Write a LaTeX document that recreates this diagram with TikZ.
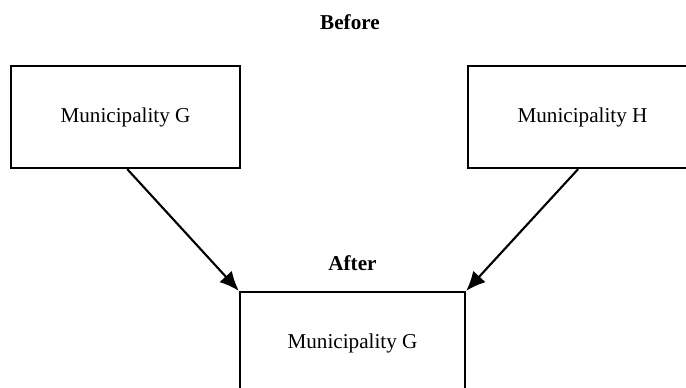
\documentclass[tikz,border=0pt]{standalone}
\usepackage{fontspec}
\setmainfont{Liberation Serif}
\usepackage{tikz}
\usetikzlibrary{arrows.meta,positioning}
\tikzset{
  %Define style for boxes
  muni/.style={
    rectangle,
    draw=black, line width=1.3pt,
    minimum width=129.8pt,
    minimum height=57.8pt,
    font=\fontsize{12}{14}\selectfont,
    text centered},
  % Define arrow style
  pil/.style={
    -{Latex[length=11pt,width=9.5pt]},
    line width=1.2pt}
}

\begin{document}
\begin{tikzpicture}[x=0.567pt,y=-0.567pt]
      \clip (0,0) rectangle (686,387);
      \node[font=\fontsize{12}{14}\selectfont\bfseries] (before) at (350,22) {Before};
      \node[muni] (gold) at (125.5,117) {Municipality G};
      \node[muni] (hold) at (582.5,117) {Municipality H};
      \node[muni,minimum width=127.6pt] (gnew) at (352.5,343) {Municipality G};
      \node[font=\fontsize{12}{14}\selectfont\bfseries,above=8pt of gnew.north] (after) {After};
      \draw[pil] ([xshift=1pt]gold.south) -- (gnew.north west);
      \draw[pil] ([xshift=-2.5pt]hold.south) -- (gnew.north east);
    \end{tikzpicture}
\end{document}
